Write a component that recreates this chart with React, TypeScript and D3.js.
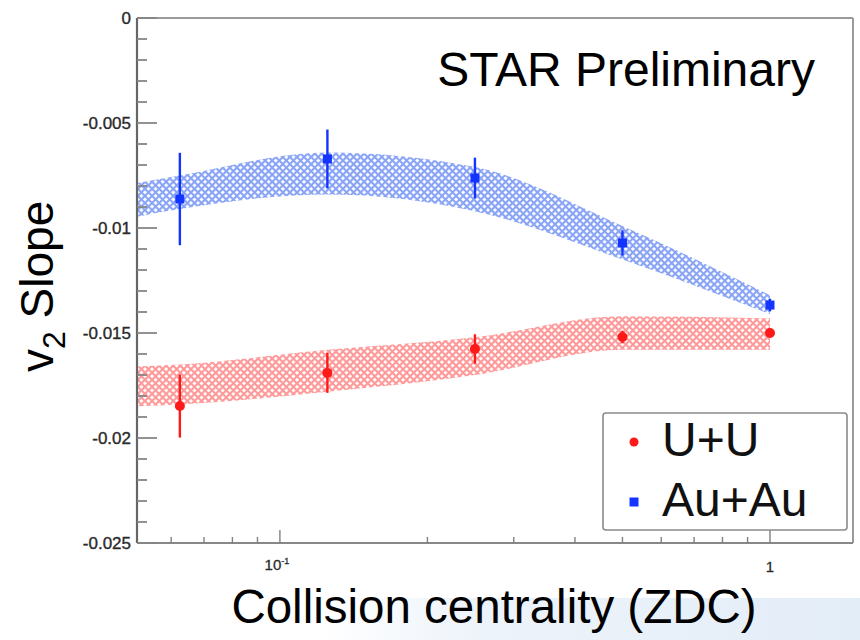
import { useEffect, useRef } from 'react';
import * as d3 from 'd3';

// centrality bins (ZDC) and measured v2 slopes
const centrality = [0.0625, 0.125, 0.25, 0.5, 1];
const uuSlope = [-0.01848, -0.0169, -0.01576, -0.01519, -0.0150];
const uuErr = [0.0015, 0.00095, 0.0007, 0.0003, 0.0002];
const auSlope = [-0.00862, -0.00671, -0.00762, -0.01071, -0.01367];
const auErr = [0.0022, 0.0014, 0.00097, 0.0006, 0.0003];

// systematic bands
const bandX = [0.05, 0.0625, 0.125, 0.25, 0.5, 1];
const auBandHigh = [-0.0079, -0.0075, -0.0064, -0.0071, -0.0099, -0.0132];
const auBandLow = [-0.0095, -0.0091, -0.0084, -0.0092, -0.0115, -0.0141];
const uuBandHigh = [-0.0166, -0.0165, -0.0158, -0.0152, -0.0142, -0.0143];
const uuBandLow = [-0.0185, -0.0184, -0.0178, -0.0170, -0.0158, -0.0158];

const yTickLabels = ['0', '-0.005', '-0.01', '-0.015', '-0.02', '-0.025'];
const legendLabels = ['U+U', 'Au+Au'];

const App = () => {
  const svgRef = useRef<SVGSVGElement>(null);

  useEffect(() => {
    const svg = d3.select(svgRef.current);
    svg.selectAll('*').remove();

    const width = 860;
    const height = 640;
    const left = 137, right = 853, top = 18, bottom = 543;
    const font = 'Liberation Sans, Arial, sans-serif';

    const x = d3.scaleLog().domain([0.0511, 1.477]).range([left, right]);
    const y = d3.scaleLinear().domain([0, -0.025]).range([top, bottom]);

    svg.attr('viewBox', [0, 0, width, height]);

    // faint slide background in the bottom right corner
    const defs = svg.append('defs');
    const grad = defs.append('linearGradient')
      .attr('id', 'bg').attr('x1', 0).attr('x2', 1).attr('y1', 0).attr('y2', 0);
    grad.append('stop').attr('offset', '0%').attr('stop-color', '#ffffff');
    grad.append('stop').attr('offset', '30%').attr('stop-color', '#edf3fa');
    grad.append('stop').attr('offset', '100%').attr('stop-color', '#e3edf8');
    svg.append('rect').attr('x', 320).attr('y', 598).attr('width', 540).attr('height', 42)
      .attr('fill', 'url(#bg)');

    const hatch = (id: string, color: string) => {
      const p = defs.append('pattern')
        .attr('id', id)
        .attr('patternUnits', 'userSpaceOnUse')
        .attr('width', 5).attr('height', 5)
        .attr('patternTransform', 'rotate(45)');
      p.append('rect').attr('width', 5).attr('height', 2.1).attr('fill', color);
      p.append('rect').attr('width', 2.1).attr('height', 5).attr('fill', color);
    };
    hatch('hatchBlue', '#89a4f6');
    hatch('hatchRed', '#ff9898');

    defs.append('clipPath').attr('id', 'plotClip')
      .append('rect').attr('x', left).attr('y', top)
      .attr('width', right - left).attr('height', bottom - top);

    const band = (hi: number[], lo: number[], fill: string) => {
      const area = d3.area<number>()
        .x((d) => x(bandX[d]))
        .y0((d) => y(lo[d]))
        .y1((d) => y(hi[d]))
        .curve(d3.curveMonotoneX);
      svg.append('path')
        .attr('clip-path', 'url(#plotClip)')
        .attr('d', area(d3.range(bandX.length)))
        .attr('fill', fill);
    };
    band(auBandHigh, auBandLow, 'url(#hatchBlue)');
    band(uuBandHigh, uuBandLow, 'url(#hatchRed)');

    // frame
    svg.append('line').attr('x1', left).attr('x2', right).attr('y1', top).attr('y2', top)
      .attr('stroke', '#9a9a9a').attr('stroke-width', 2);
    svg.append('line').attr('x1', right).attr('x2', right).attr('y1', top).attr('y2', bottom)
      .attr('stroke', '#9a9a9a').attr('stroke-width', 2);
    svg.append('line').attr('x1', left).attr('x2', right).attr('y1', bottom).attr('y2', bottom)
      .attr('stroke', '#888').attr('stroke-width', 2);
    svg.append('line').attr('x1', left).attr('x2', left).attr('y1', top).attr('y2', bottom)
      .attr('stroke', '#666').attr('stroke-width', 2.2);

    // y ticks (inside, ROOT style)
    const yMinor = d3.range(0, 26).map((i) => -i * 0.001);
    svg.append('g').selectAll('line').data(yMinor).join('line')
      .attr('x1', left)
      .attr('x2', (d, i) => left + (i % 5 === 0 ? 20 : 10))
      .attr('y1', (d) => y(d)).attr('y2', (d) => y(d))
      .attr('stroke', '#858585').attr('stroke-width', 1.8);
    svg.append('g').selectAll('text').data(yTickLabels).join('text')
      .attr('x', 131)
      .attr('y', (d, i) => y(-i * 0.005))
      .attr('dy', '0.36em')
      .attr('text-anchor', 'end')
      .attr('font-family', font)
      .attr('font-size', 17)
      .attr('fill', '#2a2a2a')
      .attr('stroke', '#2a2a2a').attr('stroke-width', 0.35)
      .text((d) => d);

    // x ticks (log)
    const xMinor = [0.06, 0.07, 0.08, 0.09, 0.2, 0.3, 0.4, 0.5, 0.6, 0.7, 0.8, 0.9];
    const xMajor = [0.1, 1];
    svg.append('g').selectAll('line').data(xMinor).join('line')
      .attr('x1', (d) => x(d)).attr('x2', (d) => x(d))
      .attr('y1', bottom).attr('y2', bottom - 6)
      .attr('stroke', '#808080').attr('stroke-width', 1.4);
    svg.append('g').selectAll('line').data(xMajor).join('line')
      .attr('x1', (d) => x(d)).attr('x2', (d) => x(d))
      .attr('y1', bottom).attr('y2', bottom - 13)
      .attr('stroke', '#808080').attr('stroke-width', 1.4);

    const t10 = svg.append('text')
      .attr('x', x(0.1) - 3).attr('y', 570)
      .attr('text-anchor', 'middle')
      .attr('font-family', font).attr('font-size', 15).attr('fill', '#2a2a2a')
      .attr('stroke', '#2a2a2a').attr('stroke-width', 0.3);
    t10.append('tspan').text('10');
    t10.append('tspan').attr('dy', -6).attr('font-size', 9).text('-1');
    svg.append('text')
      .attr('x', x(1)).attr('y', 572)
      .attr('text-anchor', 'middle')
      .attr('font-family', font).attr('font-size', 15).attr('fill', '#2a2a2a')
      .attr('stroke', '#2a2a2a').attr('stroke-width', 0.3)
      .text('1');

    // error bars and markers
    const blue = '#1434ff';
    const red = '#ff1a1a';
    svg.append('g').selectAll('line').data(centrality).join('line')
      .attr('x1', (d) => x(d)).attr('x2', (d) => x(d))
      .attr('y1', (d, i) => y(auSlope[i] + auErr[i]))
      .attr('y2', (d, i) => y(auSlope[i] - auErr[i]))
      .attr('stroke', blue).attr('stroke-width', 2.4);
    svg.append('g').selectAll('rect').data(centrality).join('rect')
      .attr('x', (d) => x(d) - 4.5)
      .attr('y', (d, i) => y(auSlope[i]) - 4.5)
      .attr('width', 9).attr('height', 9)
      .attr('fill', blue);

    svg.append('g').selectAll('line').data(centrality).join('line')
      .attr('x1', (d) => x(d)).attr('x2', (d) => x(d))
      .attr('y1', (d, i) => y(uuSlope[i] + uuErr[i]))
      .attr('y2', (d, i) => y(uuSlope[i] - uuErr[i]))
      .attr('stroke', red).attr('stroke-width', 2.4);
    svg.append('g').selectAll('circle').data(centrality).join('circle')
      .attr('cx', (d) => x(d))
      .attr('cy', (d, i) => y(uuSlope[i]))
      .attr('r', 5)
      .attr('fill', red);

    // legend
    svg.append('rect')
      .attr('x', 603).attr('y', 413).attr('width', 244).attr('height', 117)
      .attr('rx', 3)
      .attr('fill', '#fff').attr('stroke', '#8a8a8a').attr('stroke-width', 1.6);
    svg.append('circle').attr('cx', 634).attr('cy', 442).attr('r', 4.5).attr('fill', red);
    svg.append('rect').attr('x', 629.5).attr('y', 497.5).attr('width', 9).attr('height', 9).attr('fill', blue);
    svg.append('g').selectAll('text').data(legendLabels).join('text')
      .attr('x', 662)
      .attr('y', (d, i) => 456 + i * 60)
      .attr('font-family', font)
      .attr('font-size', 48)
      .attr('fill', '#111')
      .text((d) => d);

    // annotation
    svg.append('text')
      .attr('x', 815).attr('y', 86)
      .attr('text-anchor', 'end')
      .attr('font-family', font)
      .attr('font-size', 48)
      .attr('fill', '#000')
      .text('STAR Preliminary');

    // axis titles
    svg.append('text')
      .attr('x', 494).attr('y', 623)
      .attr('text-anchor', 'middle')
      .attr('font-family', font)
      .attr('font-size', 47.5)
      .attr('fill', '#000')
      .text('Collision centrality (ZDC)');

    const yTitle = svg.append('text')
      .attr('transform', 'translate(53,372) rotate(-90)')
      .attr('font-family', font)
      .attr('font-size', 46)
      .attr('fill', '#000');
    yTitle.append('tspan').text('v');
    yTitle.append('tspan').attr('dy', 12).attr('font-size', 32).text('2');
    yTitle.append('tspan').attr('dy', -12).text(' Slope');
  }, []);

  return (
    <div style={{ width: 860, height: 640, position: 'absolute', left: 0, top: 0 }}>
      <svg ref={svgRef} width={860} height={640} style={{ display: 'block' }} />
    </div>
  );
};

export default App;
